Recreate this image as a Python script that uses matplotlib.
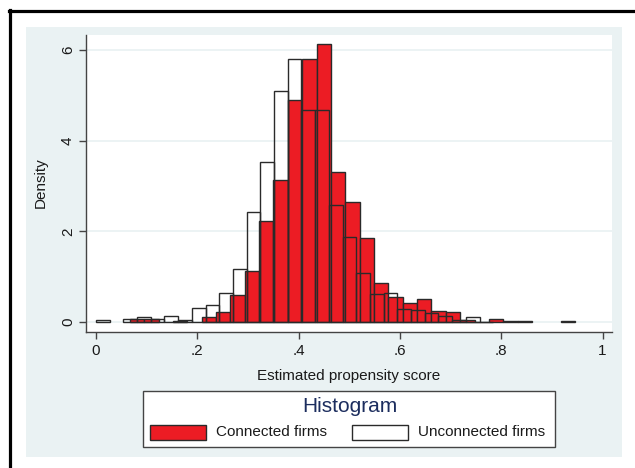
import matplotlib
matplotlib.use('Agg')
import matplotlib.pyplot as plt
from matplotlib.patches import Rectangle
from matplotlib.lines import Line2D
import numpy as np

plt.rcParams['font.family'] = ['Liberation Sans', 'DejaVu Sans']

# ---------------- data ----------------
# Connected firms: histogram densities, bins start at 0.0100, width 0.02836
connected_start = 0.0100
connected_width = 0.02836
connected_density = [0.0, 0.0, 0.07, 0.06, 0.0, 0.02, 0.0, 0.11, 0.21, 0.59,
                     1.13, 2.23, 3.13, 4.89, 5.80, 6.13, 3.31, 2.65, 1.85, 0.85,
                     0.56, 0.43, 0.51, 0.24, 0.21, 0.04, 0.01, 0.06, 0.02, 0.02,
                     0.0, 0.0, 0.02]
# Unconnected firms: histogram densities, bins start at 0.0, width 0.02704
unconnected_start = 0.0
unconnected_width = 0.02704
unconnected_density = [0.035, 0.0, 0.07, 0.10, 0.06, 0.13, 0.04, 0.31, 0.37, 0.63,
                       1.16, 2.43, 3.53, 5.10, 5.80, 4.67, 4.67, 2.57, 1.88, 1.07,
                       0.62, 0.65, 0.28, 0.26, 0.19, 0.13, 0.05, 0.10, 0.01]

x_ticks = [0, 0.2, 0.4, 0.6, 0.8, 1.0]
x_ticklabels = ['0', '.2', '.4', '.6', '.8', '1']
y_ticks = [0, 2, 4, 6]
y_ticklabels = ['0', '2', '4', '6']
x_title = 'Estimated propensity score'
y_title = 'Density'
legend_title = 'Histogram'
series_names = ['Connected firms', 'Unconnected firms']

# ---------------- style ----------------
RED = '#ec1c24'
EDGE = '#2a2a2a'
PANEL = '#eaf2f3'
TXT = '#1a1a1a'
NAVY = '#1c2d5e'

W, H = 635, 468
fig = plt.figure(figsize=(W / 100, H / 100), dpi=100)
fig.patch.set_facecolor('white')


def fx(px):
    return px / W


def fy(py):
    return 1 - py / H


# outer light panel
fig.add_artist(Rectangle((fx(26), fy(457)), fx(622) - fx(26), fy(27) - fy(457),
                         facecolor=PANEL, edgecolor='none', zorder=0))
# black frame (top and left)
fig.add_artist(Line2D([fx(10), fx(10)], [fy(480), fy(10)], color='black', lw=2.3))
fig.add_artist(Line2D([fx(9), fx(650)], [fy(11), fy(11)], color='black', lw=2.3))

ax = fig.add_axes([fx(86), fy(331.7), fx(612) - fx(86), fy(35) - fy(331.7)])
ax.set_facecolor('white')

c = np.array(connected_density)
ce = connected_start + connected_width * np.arange(len(c))
m = c > 0
ax.bar(ce[m], c[m], width=connected_width, align='edge', color=RED,
       edgecolor=EDGE, linewidth=1.0, zorder=2)

u = np.array(unconnected_density)
ue = unconnected_start + unconnected_width * np.arange(len(u))
m = u > 0
ax.bar(ue[m], u[m], width=unconnected_width, align='edge', facecolor='none',
       edgecolor=EDGE, linewidth=1.0, zorder=3)

ax.set_xlim(-0.0197, 1.0186)
ax.set_ylim(-0.214, 6.33)

ax.set_xticks(x_ticks)
ax.set_xticklabels(x_ticklabels)
ax.set_yticks(y_ticks)
ax.set_yticklabels(y_ticklabels, rotation=90, va='center')

for s in ['top', 'right']:
    ax.spines[s].set_visible(False)
for s in ['left', 'bottom']:
    ax.spines[s].set_color('#444444')
    ax.spines[s].set_linewidth(1.0)

ax.tick_params(axis='both', colors='#444444', labelcolor=TXT, labelsize=11,
               length=5, width=1.0, direction='out')
ax.tick_params(axis='x', pad=4)
ax.tick_params(axis='y', pad=3)

ax.yaxis.grid(True, color=PANEL, linewidth=1.3)
ax.set_axisbelow(True)

ax.set_xlabel(x_title, fontsize=11, color=TXT)
ax.xaxis.set_label_coords(0.5, (331.7 - 376) / (331.7 - 35))
ax.xaxis.label.set_va('center')
ax.set_ylabel(y_title, fontsize=11, color=TXT)
ax.yaxis.set_label_coords((41 - 86) / (612 - 86), (331.7 - 183) / (331.7 - 35))
ax.yaxis.label.set_va('center')

# ---------------- legend (drawn manually) ----------------
fig.add_artist(Rectangle((fx(143), fy(447)), fx(555) - fx(143), fy(391) - fy(447),
                         facecolor='white', edgecolor='#444444', linewidth=1.0, zorder=1))
fig.text(fx(349.5), fy(407), legend_title, fontsize=15, color=NAVY,
         ha='center', va='center', zorder=2)
fig.add_artist(Rectangle((fx(149.5), fy(440)), fx(205.5) - fx(149.5), fy(425) - fy(440),
                         facecolor=RED, edgecolor=EDGE, linewidth=1.0, zorder=2))
fig.text(fx(216), fy(432.5), series_names[0], fontsize=11, color=TXT,
         ha='left', va='center', zorder=2)
fig.add_artist(Rectangle((fx(352), fy(440)), fx(408) - fx(352), fy(425) - fy(440),
                         facecolor='white', edgecolor=EDGE, linewidth=1.0, zorder=2))
fig.text(fx(418.5), fy(432.5), series_names[1], fontsize=11, color=TXT,
         ha='left', va='center', zorder=2)

fig.savefig('out.png', dpi=100)
